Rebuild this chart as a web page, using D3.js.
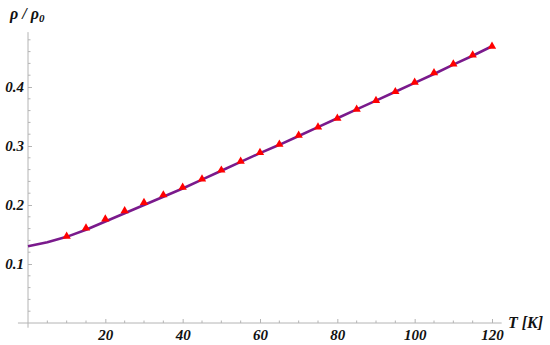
<!DOCTYPE html>
<html>
<head>
<meta charset="utf-8">
<script src="https://cdn.jsdelivr.net/npm/d3@7"></script>
<style>
  body { margin: 0; background: #fff; }
</style>
</head>
<body>
<div class="chart"></div>
<script>
(function() {
  // model curve, T = 0..120 step 5
  var lineT = [0, 5, 10, 15, 20, 25, 30, 35, 40, 45, 50, 55, 60, 65, 70, 75, 80, 85, 90, 95, 100, 105, 110, 115, 120];
  var lineRho = [0.130, 0.137, 0.146, 0.158, 0.172, 0.186, 0.200, 0.214, 0.228, 0.243, 0.258, 0.273, 0.288, 0.302, 0.317, 0.332, 0.347, 0.362, 0.377, 0.392, 0.407, 0.422, 0.438, 0.453, 0.469];
  // measured points (triangles)
  var dataT = [10, 15, 20, 25, 30, 35, 40, 45, 50, 55, 60, 65, 70, 75, 80, 85, 90, 95, 100, 105, 110, 115, 120];
  var dataRho = [0.147, 0.161, 0.176, 0.190, 0.204, 0.217, 0.230, 0.244, 0.259, 0.274, 0.289, 0.303, 0.318, 0.332, 0.347, 0.362, 0.377, 0.392, 0.408, 0.424, 0.439, 0.454, 0.469];
  var xTicks = [20, 40, 60, 80, 100, 120];
  var yTicks = [0.1, 0.2, 0.3, 0.4];

  var width = 550, height = 345;
  var font = "Liberation Serif";
  var svg = d3.select(".chart").append("svg")
    .attr("width", width)
    .attr("height", height);

  var x = d3.scaleLinear().domain([0, 120]).range([28, 492]);
  var y = d3.scaleLinear().domain([0, 0.4]).range([323, 87]);
  var axisColor = "#b4b4b4";

  // axis lines
  svg.append("line")
    .attr("x1", x(-2.6)).attr("x2", x(122.5))
    .attr("y1", y(0)).attr("y2", y(0))
    .attr("stroke", axisColor);
  svg.append("line")
    .attr("x1", x(0)).attr("x2", x(0))
    .attr("y1", y(-0.008)).attr("y2", y(0.493))
    .attr("stroke", axisColor);

  // minor ticks
  var xMinor = d3.range(5, 121, 5).filter(function(d) { return d % 20 !== 0; });
  var yMinor = d3.range(1, 25).map(function(i) { return i * 0.02; })
    .filter(function(d) { return Math.abs(d * 10 - Math.round(d * 10)) > 1e-6; });

  svg.append("g").selectAll("line").data(xMinor).enter().append("line")
    .attr("x1", function(d) { return x(d); }).attr("x2", function(d) { return x(d); })
    .attr("y1", y(0)).attr("y2", y(0) - 2.5)
    .attr("stroke", axisColor);
  svg.append("g").selectAll("line").data(yMinor).enter().append("line")
    .attr("x1", x(0)).attr("x2", x(0) + 2.5)
    .attr("y1", function(d) { return y(d); }).attr("y2", function(d) { return y(d); })
    .attr("stroke", axisColor);

  // major ticks + labels
  var gx = svg.append("g").attr("transform", "translate(0," + y(0) + ")")
    .call(d3.axisBottom(x).tickValues(xTicks).tickSize(-4).tickPadding(6).tickFormat(d3.format("d")));
  gx.select(".domain").remove();
  gx.selectAll(".tick line").attr("stroke", axisColor);

  var gy = svg.append("g").attr("transform", "translate(" + x(0) + ",0)")
    .call(d3.axisLeft(y).tickValues(yTicks).tickSize(-4).tickPadding(4).tickFormat(d3.format(".1f")));
  gy.select(".domain").remove();
  gy.selectAll(".tick line").attr("stroke", axisColor);

  [gx, gy].forEach(function(g) {
    g.attr("font-family", font).attr("font-size", 15);
    g.selectAll(".tick text")
      .attr("font-family", font)
      .attr("font-style", "italic")
      .attr("font-weight", "bold")
      .attr("font-size", 15)
      .attr("fill", "#111");
  });

  // curve
  var line = d3.line()
    .x(function(d, i) { return x(lineT[i]); })
    .y(function(d) { return y(d); });
  svg.append("path")
    .datum(lineRho)
    .attr("d", line)
    .attr("fill", "none")
    .attr("stroke", "#7a1a8c")
    .attr("stroke-width", 2.6)
    .attr("stroke-linejoin", "round");

  // triangles
  var tri = d3.symbol().type(d3.symbolTriangle).size(30);
  svg.append("g").selectAll("path").data(dataRho).enter().append("path")
    .attr("d", tri)
    .attr("transform", function(d, i) { return "translate(" + x(dataT[i]) + "," + y(d) + ")"; })
    .attr("fill", "#ff0000");

  // axis labels
  svg.append("text")
    .attr("font-family", font).attr("font-style", "italic").attr("font-weight", "bold")
    .attr("font-size", 16).attr("fill", "#111")
    .attr("x", 508).attr("y", y(0) + 5)
    .text("T [K]");
  var yl = svg.append("text")
    .attr("font-family", font).attr("font-style", "italic").attr("font-weight", "bold")
    .attr("font-size", 16).attr("fill", "#111")
    .attr("x", 10).attr("y", 19);
  yl.append("tspan").text("ρ / ρ");
  yl.append("tspan").attr("font-size", 11).attr("dy", 3).text("0");
})();
</script>
</body>
</html>
